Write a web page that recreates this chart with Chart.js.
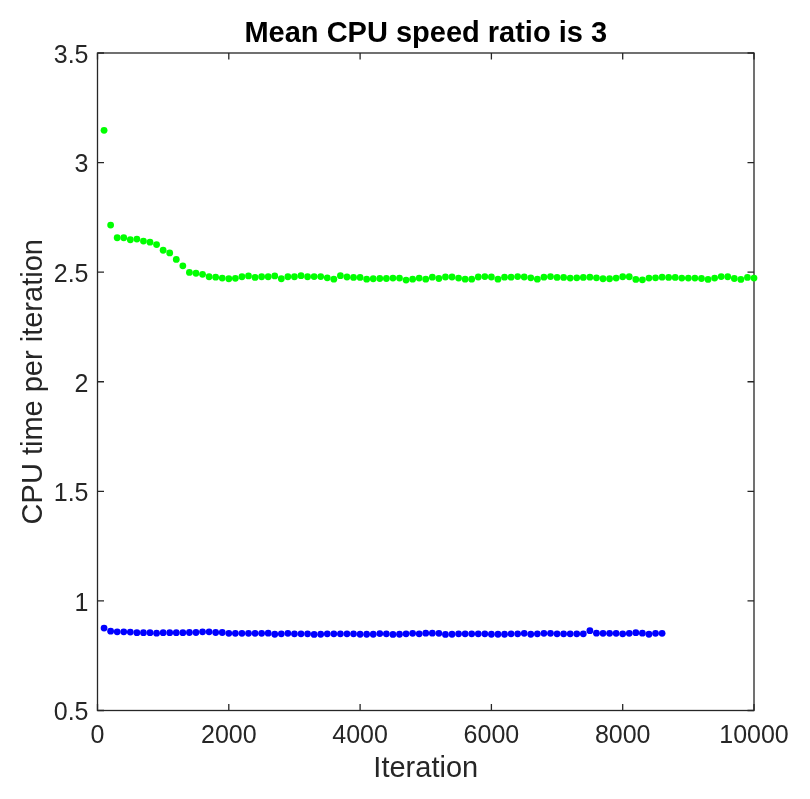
<!DOCTYPE html>
<html>
<head>
<meta charset="utf-8">
<title>Mean CPU speed ratio is 3</title>
<script src="https://cdn.jsdelivr.net/npm/chart.js@4/dist/chart.umd.min.js"></script>
<style>
  html, body { margin: 0; padding: 0; background: #fff; }
  #wrap { width: 810px; height: 799px; position: relative; }
</style>
</head>
<body>
<div id="wrap"><canvas id="cpuChart"></canvas></div>
<script>
//iteration numbers where a sample was taken
const iterations = [
  100, 200, 300, 400, 500, 600, 700, 800, 900, 1000,
  1100, 1200, 1300, 1400, 1500, 1600, 1700, 1800, 1900, 2000,
  2100, 2200, 2300, 2400, 2500, 2600, 2700, 2800, 2900, 3000,
  3100, 3200, 3300, 3400, 3500, 3600, 3700, 3800, 3900, 4000,
  4100, 4200, 4300, 4400, 4500, 4600, 4700, 4800, 4900, 5000,
  5100, 5200, 5300, 5400, 5500, 5600, 5700, 5800, 5900, 6000,
  6100, 6200, 6300, 6400, 6500, 6600, 6700, 6800, 6900, 7000,
  7100, 7200, 7300, 7400, 7500, 7600, 7700, 7800, 7900, 8000,
  8100, 8200, 8300, 8400, 8500, 8600, 8700, 8800, 8900, 9000,
  9100, 9200, 9300, 9400, 9500, 9600, 9700, 9800, 9900, 10000
];

//slow machine (green), 100 samples
const slowTime = [
  3.147, 2.715, 2.657, 2.657, 2.648, 2.651, 2.642, 2.637, 2.626, 2.600,
  2.588, 2.558, 2.529, 2.499, 2.495, 2.490, 2.479, 2.477, 2.473, 2.470,
  2.472, 2.479, 2.483, 2.476, 2.479, 2.479, 2.483, 2.470, 2.479, 2.479,
  2.484, 2.479, 2.480, 2.480, 2.474, 2.468, 2.484, 2.478, 2.476, 2.476,
  2.468, 2.470, 2.471, 2.471, 2.473, 2.473, 2.464, 2.468, 2.473, 2.468,
  2.477, 2.471, 2.478, 2.478, 2.473, 2.468, 2.468, 2.478, 2.480, 2.478,
  2.468, 2.477, 2.477, 2.480, 2.478, 2.474, 2.468, 2.477, 2.480, 2.476,
  2.476, 2.473, 2.474, 2.476, 2.477, 2.474, 2.470, 2.470, 2.473, 2.479,
  2.479, 2.467, 2.465, 2.473, 2.474, 2.477, 2.476, 2.476, 2.473, 2.473,
  2.473, 2.471, 2.467, 2.473, 2.480, 2.479, 2.471, 2.467, 2.476, 2.473
];

//fast machine (blue), 86 samples
const fastTime = [
  0.876, 0.862, 0.859, 0.859, 0.858, 0.855, 0.855, 0.855, 0.853, 0.855,
  0.855, 0.855, 0.855, 0.856, 0.856, 0.859, 0.859, 0.856, 0.856, 0.852,
  0.852, 0.852, 0.852, 0.852, 0.852, 0.853, 0.848, 0.850, 0.852, 0.850,
  0.850, 0.850, 0.847, 0.848, 0.850, 0.850, 0.850, 0.850, 0.850, 0.848,
  0.848, 0.848, 0.851, 0.850, 0.847, 0.848, 0.850, 0.852, 0.850, 0.853,
  0.853, 0.852, 0.847, 0.848, 0.850, 0.850, 0.850, 0.850, 0.850, 0.848,
  0.848, 0.848, 0.850, 0.850, 0.852, 0.848, 0.850, 0.852, 0.852, 0.850,
  0.850, 0.850, 0.850, 0.850, 0.864, 0.853, 0.852, 0.852, 0.852, 0.850,
  0.852, 0.855, 0.853, 0.848, 0.852, 0.852
];

const xTicks = [0, 2000, 4000, 6000, 8000, 10000];
const yTicks = [0.5, 1, 1.5, 2, 2.5, 3, 3.5];
const titleText = 'Mean CPU speed ratio is 3';

const axisColor = '#262626';
const fontFamily = "'Liberation Sans', Arial, Helvetica, sans-serif";

//pair up x and y for scatter
function toPoints(ys) {
  return ys.map((v, i) => ({ x: iterations[i], y: v }));
}

//box round the plot with ticks pointing inward (matlab look)
const boxPlugin = {
  id: 'matlabBox',
  beforeDatasetsDraw(chart) {
    const { ctx, chartArea: a, scales: { x, y } } = chart;
    const tl = 6.5;
    ctx.save();
    ctx.strokeStyle = axisColor;
    ctx.lineWidth = 1.3;
    ctx.strokeRect(a.left, a.top, a.right - a.left, a.bottom - a.top);
    ctx.beginPath();
    xTicks.forEach(v => {
      const px = x.getPixelForValue(v);
      ctx.moveTo(px, a.bottom); ctx.lineTo(px, a.bottom - tl);
      ctx.moveTo(px, a.top); ctx.lineTo(px, a.top + tl);
    });
    yTicks.forEach(v => {
      const py = y.getPixelForValue(v);
      ctx.moveTo(a.left, py); ctx.lineTo(a.left + tl, py);
      ctx.moveTo(a.right, py); ctx.lineTo(a.right - tl, py);
    });
    ctx.stroke();

    //title centred over the plot box, not the whole canvas
    ctx.fillStyle = '#000';
    ctx.font = 'bold 29px ' + fontFamily;
    ctx.textAlign = 'center';
    ctx.textBaseline = 'alphabetic';
    ctx.fillText(titleText, (a.left + a.right) / 2, a.top - 11.5);
    ctx.restore();
  }
};

const ctx = document.getElementById('cpuChart').getContext('2d');
new Chart(ctx, {
  type: 'scatter',
  data: {
    datasets: [
      { label: 'slow', data: toPoints(slowTime), backgroundColor: '#00ff00', borderWidth: 0, pointRadius: 3.4, clip: false },
      { label: 'fast', data: toPoints(fastTime), backgroundColor: '#0000ff', borderWidth: 0, pointRadius: 3.4, clip: false }
    ]
  },
  options: {
    responsive: true,
    maintainAspectRatio: false,
    animation: false,
    layout: { padding: { left: 0, right: 56, top: 53, bottom: 0 } },
    plugins: {
      legend: { display: false },
      tooltip: { enabled: false },
      title: { display: false }
    },
    scales: {
      x: {
        type: 'linear',
        min: 0,
        max: 10000,
        grid: { display: false },
        border: { display: false },
        afterBuildTicks: s => { s.ticks = xTicks.map(v => ({ value: v })); },
        afterFit: s => { s.height = 88.5; },
        ticks: { color: axisColor, padding: 3, font: { family: fontFamily, size: 25 }, callback: v => String(v) },
        title: { display: true, text: 'Iteration', color: axisColor, padding: { top: 0, bottom: 13 }, font: { family: fontFamily, size: 29, lineHeight: 1.2 } }
      },
      y: {
        type: 'linear',
        min: 0.5,
        max: 3.5,
        grid: { display: false },
        border: { display: false },
        afterBuildTicks: s => { s.ticks = yTicks.map(v => ({ value: v })); },
        afterFit: s => { s.width = 97.5; },
        ticks: { color: axisColor, padding: 1, labelOffset: 3, font: { family: fontFamily, size: 25 }, callback: v => String(v) },
        title: { display: true, text: 'CPU time per iteration', color: axisColor, padding: { top: 17, bottom: 0 }, font: { family: fontFamily, size: 29, lineHeight: 1.2 } }
      }
    }
  },
  plugins: [boxPlugin]
});
</script>
</body>
</html>
